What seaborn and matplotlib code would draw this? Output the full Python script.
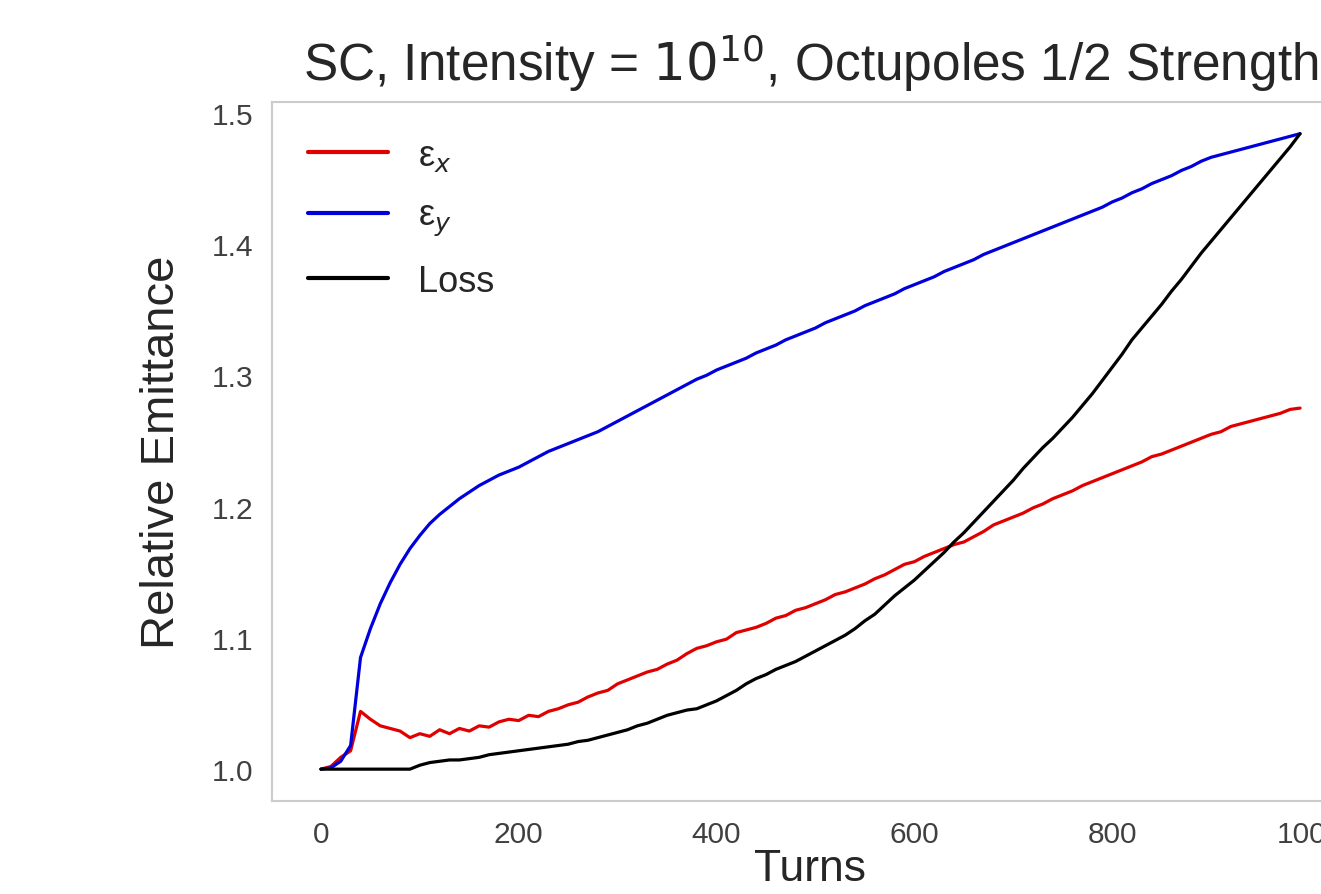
import matplotlib
matplotlib.use("Agg")
import matplotlib.pyplot as plt
import numpy as np
import seaborn as sns

# turn number (every 10 turns)
turns = list(range(0, 1000, 10))

# relative horizontal emittance
eps_x = [
    1.000, 1.002, 1.009, 1.014, 1.044, 1.038, 1.033, 1.031, 1.029, 1.024,
    1.027, 1.025, 1.030, 1.027, 1.031, 1.029, 1.033, 1.032, 1.036, 1.038,
    1.037, 1.041, 1.040, 1.044, 1.046, 1.049, 1.051, 1.055, 1.058, 1.060,
    1.065, 1.068, 1.071, 1.074, 1.076, 1.080, 1.083, 1.088, 1.092, 1.094,
    1.097, 1.099, 1.104, 1.106, 1.108, 1.111, 1.115, 1.117, 1.121, 1.123,
    1.126, 1.129, 1.133, 1.135, 1.138, 1.141, 1.145, 1.148, 1.152, 1.156,
    1.158, 1.162, 1.165, 1.168, 1.171, 1.173, 1.177, 1.181, 1.186, 1.189,
    1.192, 1.195, 1.199, 1.202, 1.206, 1.209, 1.212, 1.216, 1.219, 1.222,
    1.225, 1.228, 1.231, 1.234, 1.238, 1.240, 1.243, 1.246, 1.249, 1.252,
    1.255, 1.257, 1.261, 1.263, 1.265, 1.267, 1.269, 1.271, 1.274, 1.275,
]

# relative vertical emittance
eps_y = [
    1.000, 1.001, 1.006, 1.018, 1.085, 1.107, 1.126, 1.142, 1.156, 1.168,
    1.178, 1.187, 1.194, 1.200, 1.206, 1.211, 1.216, 1.220, 1.224, 1.227,
    1.230, 1.234, 1.238, 1.242, 1.245, 1.248, 1.251, 1.254, 1.257, 1.261,
    1.265, 1.269, 1.273, 1.277, 1.281, 1.285, 1.289, 1.293, 1.297, 1.300,
    1.304, 1.307, 1.310, 1.313, 1.317, 1.320, 1.323, 1.327, 1.330, 1.333,
    1.336, 1.340, 1.343, 1.346, 1.349, 1.353, 1.356, 1.359, 1.362, 1.366,
    1.369, 1.372, 1.375, 1.379, 1.382, 1.385, 1.388, 1.392, 1.395, 1.398,
    1.401, 1.404, 1.407, 1.410, 1.413, 1.416, 1.419, 1.422, 1.425, 1.428,
    1.432, 1.435, 1.439, 1.442, 1.446, 1.449, 1.452, 1.456, 1.459, 1.463,
    1.466, 1.468, 1.470, 1.472, 1.474, 1.476, 1.478, 1.480, 1.482, 1.484,
]

# beam loss (normalised)
loss = [
    1.000, 1.000, 1.000, 1.000, 1.000, 1.000, 1.000, 1.000, 1.000, 1.000,
    1.003, 1.005, 1.006, 1.007, 1.007, 1.008, 1.009, 1.011, 1.012, 1.013,
    1.014, 1.015, 1.016, 1.017, 1.018, 1.019, 1.021, 1.022, 1.024, 1.026,
    1.028, 1.030, 1.033, 1.035, 1.038, 1.041, 1.043, 1.045, 1.046, 1.049,
    1.052, 1.056, 1.060, 1.065, 1.069, 1.072, 1.076, 1.079, 1.082, 1.086,
    1.090, 1.094, 1.098, 1.102, 1.107, 1.113, 1.118, 1.125, 1.132, 1.138,
    1.144, 1.151, 1.158, 1.165, 1.173, 1.180, 1.188, 1.196, 1.204, 1.212,
    1.220, 1.229, 1.237, 1.245, 1.252, 1.260, 1.268, 1.277, 1.286, 1.296,
    1.306, 1.316, 1.327, 1.336, 1.345, 1.354, 1.364, 1.373, 1.383, 1.393,
    1.402, 1.411, 1.420, 1.429, 1.438, 1.447, 1.456, 1.465, 1.474, 1.484,
]

sns.set_style("white")
plt.rcParams["font.family"] = ["Liberation Sans", "DejaVu Sans"]

fig = plt.figure(figsize=(13.21, 8.95), dpi=100)
ax = fig.add_axes([0.2059, 0.104, 0.8153, 0.781])

sns.lineplot(x=turns, y=eps_x, color="#e00000", lw=2.3, label="ε$_x$", ax=ax)
sns.lineplot(x=turns, y=eps_y, color="#0000dd", lw=2.3, label="ε$_y$", ax=ax)
sns.lineplot(x=turns, y=loss, color="k", lw=2.3, label="Loss", ax=ax)

ax.set_title(r"SC, Intensity = $10^{10}$, Octupoles 1/2 Strength", fontsize=37, pad=16)
ax.set_xlabel("Turns", fontsize=32, labelpad=0)
ax.set_ylabel("Relative Emittance", fontsize=34, labelpad=20)
ax.tick_params(labelsize=21.5, pad=10, colors=".25")
ax.set_xticks([0, 200, 400, 600, 800, 1000])
ax.set_yticks([1.0, 1.1, 1.2, 1.3, 1.4, 1.5])

for s in ax.spines.values():
    s.set_color(".8")
    s.set_linewidth(1.5)

leg = ax.legend(loc="upper left", frameon=False, fontsize=26, handlelength=2.2,
                handletextpad=0.85, labelspacing=0.7, borderaxespad=0.6)
for h in leg.get_lines():
    h.set_linewidth(3)

fig.savefig("out.png", dpi=100)
